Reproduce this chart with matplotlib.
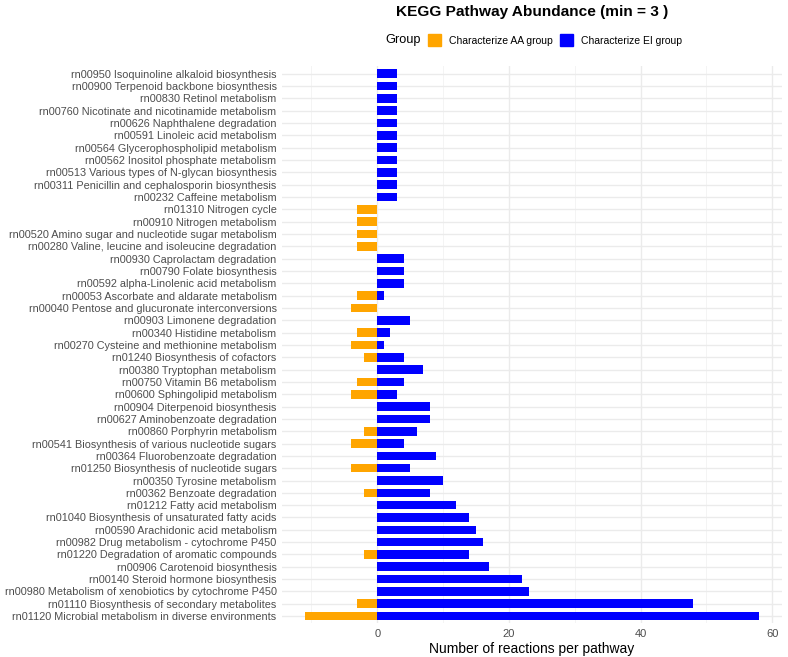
import matplotlib
matplotlib.use("Agg")
import matplotlib.pyplot as plt
import numpy as np
from matplotlib.patches import Patch

plt.rcParams['font.family'] = ['Liberation Sans', 'DejaVu Sans']

# pathways, top to bottom as in the chart
pathways = [
    "rn00950 Isoquinoline alkaloid biosynthesis",
    "rn00900 Terpenoid backbone biosynthesis",
    "rn00830 Retinol metabolism",
    "rn00760 Nicotinate and nicotinamide metabolism",
    "rn00626 Naphthalene degradation",
    "rn00591 Linoleic acid metabolism",
    "rn00564 Glycerophospholipid metabolism",
    "rn00562 Inositol phosphate metabolism",
    "rn00513 Various types of N-glycan biosynthesis",
    "rn00311 Penicillin and cephalosporin biosynthesis",
    "rn00232 Caffeine metabolism",
    "rn01310 Nitrogen cycle",
    "rn00910 Nitrogen metabolism",
    "rn00520 Amino sugar and nucleotide sugar metabolism",
    "rn00280 Valine, leucine and isoleucine degradation",
    "rn00930 Caprolactam degradation",
    "rn00790 Folate biosynthesis",
    "rn00592 alpha-Linolenic acid metabolism",
    "rn00053 Ascorbate and aldarate metabolism",
    "rn00040 Pentose and glucuronate interconversions",
    "rn00903 Limonene degradation",
    "rn00340 Histidine metabolism",
    "rn00270 Cysteine and methionine metabolism",
    "rn01240 Biosynthesis of cofactors",
    "rn00380 Tryptophan metabolism",
    "rn00750 Vitamin B6 metabolism",
    "rn00600 Sphingolipid metabolism",
    "rn00904 Diterpenoid biosynthesis",
    "rn00627 Aminobenzoate degradation",
    "rn00860 Porphyrin metabolism",
    "rn00541 Biosynthesis of various nucleotide sugars",
    "rn00364 Fluorobenzoate degradation",
    "rn01250 Biosynthesis of nucleotide sugars",
    "rn00350 Tyrosine metabolism",
    "rn00362 Benzoate degradation",
    "rn01212 Fatty acid metabolism",
    "rn01040 Biosynthesis of unsaturated fatty acids",
    "rn00590 Arachidonic acid metabolism",
    "rn00982 Drug metabolism - cytochrome P450",
    "rn01220 Degradation of aromatic compounds",
    "rn00906 Carotenoid biosynthesis",
    "rn00140 Steroid hormone biosynthesis",
    "rn00980 Metabolism of xenobiotics by cytochrome P450",
    "rn01110 Biosynthesis of secondary metabolites",
    "rn01120 Microbial metabolism in diverse environments",
]

# AA group drawn to the left (negative)
aa_group = [0, 0, 0, 0, 0, 0, 0, 0, 0, 0, 0,
            -3, -3, -3, -3, 0, 0, 0, -3, -4, 0, -3, -4, -2, 0, -3, -4,
            0, 0, -2, -4, 0, -4, 0, -2, 0, 0, 0, 0, -2, 0, 0, 0, -3, -11]
ei_group = [3, 3, 3, 3, 3, 3, 3, 3, 3, 3, 3,
            0, 0, 0, 0, 4, 4, 4, 1, 0, 5, 2, 1, 4, 7, 4, 3,
            8, 8, 6, 4, 9, 5, 10, 8, 12, 14, 15, 16, 14, 17, 22, 23, 48, 58]

c_aa = "#FFA500"
c_ei = "#0000FF"

fig = plt.figure(figsize=(7.88, 6.57), dpi=100)
ax = fig.add_axes([0.358, 0.051, 0.634, 0.848])

y = np.arange(len(pathways))
ax.barh(y, aa_group, height=0.7, color=c_aa, zorder=3)
ax.barh(y, ei_group, height=0.7, color=c_ei, zorder=3)

ax.set_ylim(len(pathways) - 0.4, -0.6)
ax.set_xlim(-14.45, 61.45)
ax.set_yticks(y)
ax.set_yticklabels(pathways, fontsize=7.85, color="#4D4D4D")
ax.set_xticks([0, 20, 40, 60])
ax.set_xticks([-10, 10, 30, 50], minor=True)
ax.tick_params(axis='x', labelsize=8, colors="#4D4D4D", length=0, pad=4)
ax.tick_params(axis='x', which='minor', length=0)
ax.tick_params(axis='y', length=0, pad=4)

ax.grid(True, which='major', color="#EBEBEB", linewidth=1.0, zorder=0)
ax.grid(True, which='minor', axis='x', color="#F2F2F2", linewidth=0.6, zorder=0)
for s in ax.spines.values():
    s.set_visible(False)

ax.set_xlabel("Number of reactions per pathway", fontsize=10, labelpad=2)

fig.text(0.675, 0.981, "KEGG Pathway Abundance (min = 3 )", fontsize=11.1,
         fontweight='bold', ha='center', va='center')
fig.text(0.489, 0.939, "Group", fontsize=9.2, ha='left', va='center')
handles = [Patch(color=c_aa, label="Characterize AA group"),
           Patch(color=c_ei, label="Characterize EI group")]
fig.legend(handles=handles, loc='center left', bbox_to_anchor=(0.543, 0.939),
           ncol=2, frameon=False, fontsize=7.5, handlelength=1.3,
           handleheight=1.3, handletextpad=0.7, columnspacing=0.7,
           borderpad=0, borderaxespad=0)

fig.savefig("out.png", dpi=100)
